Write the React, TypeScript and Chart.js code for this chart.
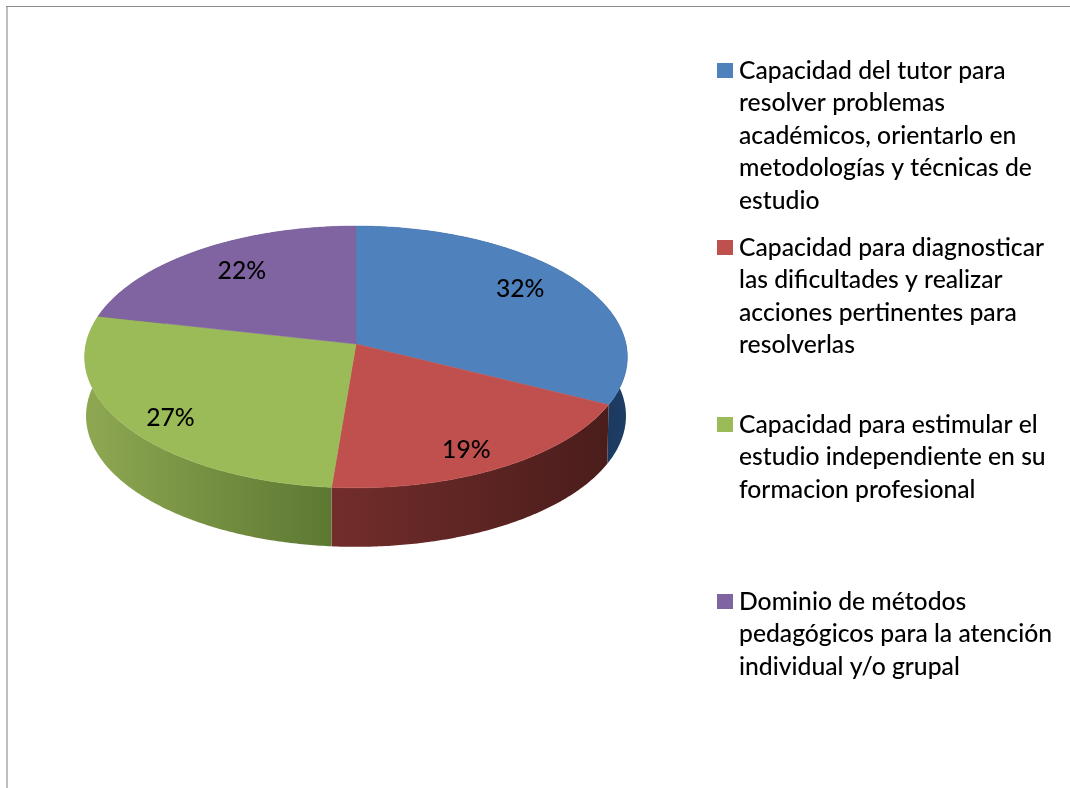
import React, { useEffect, useRef } from "react";
import { Chart, registerables } from "chart.js";

Chart.register(...registerables);

const categories = [
  "Capacidad del tutor para resolver problemas académicos, orientarlo en metodologías y técnicas de estudio",
  "Capacidad para diagnosticar las dificultades y realizar acciones pertinentes para resolverlas",
  "Capacidad para estimular el estudio independiente en su formacion profesional",
  "Dominio de métodos pedagógicos para la atención individual y/o grupal",
];
const legendLines = [
  ["Capacidad del tutor para", "resolver problemas", "académicos, orientarlo en", "metodologías y técnicas de", "estudio"],
  ["Capacidad para diagnosticar", "las dificultades y realizar", "acciones pertinentes para", "resolverlas"],
  ["Capacidad para estimular el", "estudio independiente en su", "formacion profesional"],
  ["Dominio de métodos", "pedagógicos para la atención", "individual y/o grupal"],
];
const values = [32.4, 18.9, 27.2, 21.5];
const topColors = ["#4f81bd", "#c0504d", "#9bbb59", "#8064a2"];
const wallStops = [
  ["#1c3a60", "#1f3e66"],
  ["#722d2b", "#4a1d1b"],
  ["#8ea852", "#5d7832"],
  ["#4d3c61", "#4d3c61"],
];
const labelRadii = [0.78, 0.85, 0.85, 0.72];
const labelNudge = [[-8, -4], [-11, 2], [9, 5], [1, -4]];

const FONT = "Lato";
const TILT = 0.48;
const PERSP = -0.099;

// maps the tilted disc: angle and radius fraction -> page position
function project(arc: any, angle: number, f: number, dy = 0, shrink = 1, stretch = 1) {
  const u = Math.cos(angle) * f;
  const v = Math.sin(angle) * f;
  const d = 1 + PERSP * v;
  return {
    x: arc.x + (arc.outerRadius * shrink * u) / d,
    y: arc.y + dy + (arc.outerRadius * TILT * stretch * v) / d,
  };
}

const WALL = { dy: 59, shrink: 0.995, stretch: 1 };

function rim(ctx: CanvasRenderingContext2D, arc: any, a0: number, a1: number, lower: boolean) {
  const steps = Math.max(2, Math.ceil(Math.abs(a1 - a0) / 0.01));
  for (let i = 0; i <= steps; i++) {
    const a = a0 + ((a1 - a0) * i) / steps;
    const p = lower ? project(arc, a, 1, WALL.dy, WALL.shrink, WALL.stretch) : project(arc, a, 1);
    ctx.lineTo(p.x, p.y);
  }
}

const pie3d = {
  id: "pie3d",
  beforeDraw(chart: any) {
    const { ctx, width, height } = chart;
    ctx.save();
    ctx.fillStyle = "#bdbdbd";
    ctx.fillRect(6, 6, 2, height - 6);
    ctx.fillStyle = "#8c8c8c";
    ctx.fillRect(6, 6, width - 6, 1);
    ctx.restore();
  },
  beforeDatasetDraw(chart: any, args: any) {
    const { ctx } = chart;
    const arcs = args.meta.data;
    ctx.save();
    // walls, back to front
    [3, 0, 1, 2].forEach((i) => {
      const arc = arcs[i];
      const a0 = arc.startAngle;
      const a1 = arc.endAngle;
      const xs: number[] = [];
      const n = 40;
      for (let k = 0; k <= n; k++) {
        const a = a0 + ((a1 - a0) * k) / n;
        const s = Math.sin(a);
        if (s >= -0.1) xs.push(project(arc, a, 1).x);
      }
      const x0 = xs.length ? Math.min(...xs) : arc.x;
      const x1 = xs.length ? Math.max(...xs) : arc.x + 1;
      const g = ctx.createLinearGradient(x0, 0, x1, 0);
      g.addColorStop(0, wallStops[i][0]);
      g.addColorStop(1, wallStops[i][1]);
      ctx.beginPath();
      rim(ctx, arc, a0, a1, false);
      rim(ctx, arc, a1, a0, true);
      ctx.closePath();
      ctx.fillStyle = g;
      ctx.fill();
    });
    // top faces
    arcs.forEach((arc: any, i: number) => {
      ctx.beginPath();
      ctx.moveTo(arc.x, arc.y);
      rim(ctx, arc, arc.startAngle, arc.endAngle, false);
      ctx.closePath();
      ctx.fillStyle = topColors[i];
      ctx.fill();
      ctx.strokeStyle = topColors[i];
      ctx.lineWidth = 0.5;
      ctx.stroke();
    });
    ctx.restore();
    return false;
  },
  afterDatasetsDraw(chart: any) {
    const { ctx } = chart;
    const arcs = chart.getDatasetMeta(0).data;
    ctx.save();
    ctx.font = `500 24.7px ${FONT}`;
    ctx.fillStyle = "#000";
    ctx.textBaseline = "middle";
    ctx.textAlign = "center";
    arcs.forEach((arc: any, i: number) => {
      const p = project(arc, (arc.startAngle + arc.endAngle) / 2, labelRadii[i]);
      ctx.fillText(`${Math.round(values[i])}%`, p.x + labelNudge[i][0], p.y + labelNudge[i][1]);
    });
    // legend
    const lineH = 32.5;
    const itemStep = 177;
    ctx.textAlign = "left";
    legendLines.forEach((lines, i) => {
      const y0 = 71 + itemStep * i;
      ctx.fillStyle = topColors[i];
      ctx.fillRect(717, y0 - 8, 16, 15);
      ctx.fillStyle = "#000";
      lines.forEach((t, j) => ctx.fillText(t, 739, y0 + j * lineH));
    });
    ctx.restore();
  },
};

export default function App() {
  const ref = useRef<HTMLCanvasElement>(null);
  useEffect(() => {
    const chart = new Chart(ref.current!, {
      type: "pie",
      data: {
        labels: categories,
        datasets: [{ data: values, backgroundColor: topColors, borderWidth: 0 }],
      },
      options: {
        animation: false,
        responsive: false,
        layout: { padding: { left: 86, right: 444, top: 74, bottom: 174 } },
        plugins: { legend: { display: false }, tooltip: { enabled: false } },
      },
      plugins: [pie3d],
    } as any);
    return () => chart.destroy();
  }, []);
  return (
    <canvas
      ref={ref}
      width={1070}
      height={788}
      style={{ position: "absolute", left: 0, top: 0, display: "block" }}
    />
  );
}
